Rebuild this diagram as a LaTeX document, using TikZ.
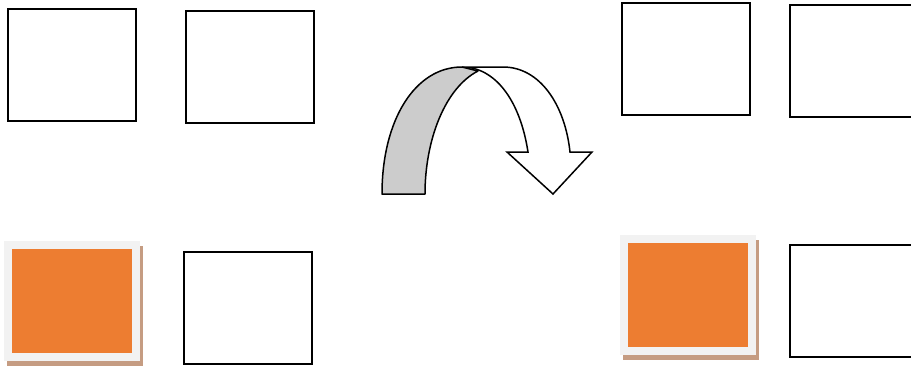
\documentclass[tikz,border=0pt]{standalone}
\usepackage{tikz}
\usetikzlibrary{shadows}

\definecolor{boxorange}{HTML}{ED7D31}
\definecolor{framegray}{HTML}{F2F2F2}
\definecolor{shadowbrown}{RGB}{197,156,130}
\definecolor{backgray}{HTML}{CCCCCC}

\tikzset{
  plainbox/.style={draw, line width=1.3pt, minimum width=128pt, minimum height=112pt, inner sep=0pt},
  orangebox/.style={fill=boxorange, draw=framegray, line width=8pt, minimum width=128pt, minimum height=112pt, inner sep=0pt,
    drop shadow={shadow xshift=3pt, shadow yshift=-5pt, fill=shadowbrown, draw=shadowbrown, line width=8pt, opacity=1}}
}

\begin{document}
\begin{tikzpicture} [x=1pt, y=-1pt]

\useasboundingbox (0,0) rectangle (911,367);
\clip (0,0) rectangle (911,367);

% left group
\node [plainbox]  (leftA) at (72,65)  {};
\node [plainbox]  (leftB) at (250,67) {};
\node [orangebox] (leftC) at (72,301) {};
\node [plainbox]  (leftD) at (248,308) {};

% right group
\node [plainbox]  (rightA) at (686,59)  {};
\node [plainbox]  (rightB) at (854,61)  {};
\node [orangebox] (rightC) at (688,295) {};
\node [plainbox]  (rightD) at (854,301) {};

% curved arrow, back side
\draw [line width=1.5pt, fill=backgray, line join=round]
      (382,194) .. controls (382,120) and (415,67) .. (462,67)
      -- (478,71) .. controls (445,88) and (425,140) .. (425,194) -- cycle;

% curved arrow, front side
\draw [line width=1.5pt, fill=white, line join=miter]
      (462,67) -- (503,67) .. controls (540,67) and (565,105) .. (570,152)
      -- (592,152) -- (553,194) -- (507,152) -- (528,152)
      .. controls (520,100) and (495,67) .. (462,67) -- cycle;

\end{tikzpicture}
\end{document}
